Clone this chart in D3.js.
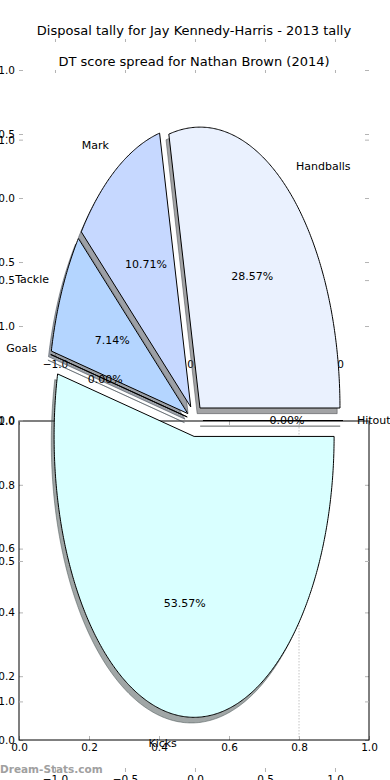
<!DOCTYPE html>
<html>
<head>
<meta charset="utf-8">
<script src="https://cdn.jsdelivr.net/npm/d3@7"></script>
<style>
  html, body { margin: 0; padding: 0; background: #fff; }
  svg { display: block; }
  text { font-family: "DejaVu Sans", sans-serif; }
</style>
</head>
<body>
<svg id="chart" width="390" height="780"></svg>
<script>
// ---------------- data ----------------
const titleTop = "Disposal tally for Jay Kennedy-Harris - 2013 tally";
const titleSecond = "DT score spread for Nathan Brown (2014)";
const categories = ["Handballs", "Mark", "Tackle", "Goals", "Kicks", "Hitout"];
const values = [8, 3, 2, 0, 15, 0];
const pieTicks = [-1.0, -0.5, 0.0, 0.5, 1.0];
const boxTicks = [0.0, 0.2, 0.4, 0.6, 0.8, 1.0];
const boxGuide = [0.8];
const watermark = "Dream-Stats.com";

// ---------------- style ----------------
const sliceColors = ["#EAF1FE", "#C6D8FF", "#B4D5FF", "#C8E6FF", "#D9FFFF", "#E0F0F0"];
const EXPLODE = 0.057;
const TICK = "#b4b4b4";
const FS = 10.5;

const svg = d3.select("#chart");
const X0 = 19, X1 = 369;

// scales
const pieX = d3.scaleLinear().domain([-1.2571, 1.2429]).range([X0, X1]);
const pieY = d3.scaleLinear().domain([-1.2513, 1.3583]).range([772, 39]);
const topY = d3.scaleLinear().domain([-1.242, 1.0]).range([357, 70]);
const boxX = d3.scaleLinear().domain([0, 1]).range([X0, X1]);
const boxY = d3.scaleLinear().domain([0, 1]).range([740, 421]);

const fmt = d3.format(".1f");

function styleAxis(g) {
  g.select(".domain").remove();
  g.selectAll(".tick line").attr("stroke", TICK).attr("stroke-width", 1);
  g.selectAll(".tick text").attr("fill", "#000").attr("font-size", FS)
    .attr("font-family", "DejaVu Sans, sans-serif");
}

function axesFrame(xs, ys, opts) {
  const g = svg.append("g");
  const [yb, yt] = [ys.range()[0], ys.range()[1]];
  // left
  g.append("g").attr("transform", `translate(${X0},0)`)
    .call(d3.axisLeft(ys).tickValues(opts.yt).tickSize(-4).tickPadding(4).tickFormat(fmt))
    .call(styleAxis);
  // right
  g.append("g").attr("transform", `translate(${X1},0)`)
    .call(d3.axisRight(ys).tickValues(opts.yt).tickSize(-4).tickFormat(""))
    .call(styleAxis);
  // top
  g.append("g").attr("transform", `translate(0,${yt})`)
    .call(d3.axisTop(xs).tickValues(opts.xt).tickSize(-opts.tl).tickFormat(""))
    .call(styleAxis);
  // bottom
  g.append("g").attr("transform", `translate(0,${yb})`)
    .call(d3.axisBottom(xs).tickValues(opts.xt).tickSize(-4).tickPadding(4).tickFormat(fmt))
    .call(styleAxis);
  return g;
}

// ---- upper axes (DT score spread) ----
axesFrame(pieX, topY, { xt: pieTicks, yt: pieTicks, tl: 3 });
svg.append("text").attr("x", (X0 + X1) / 2).attr("y", 61)
  .attr("text-anchor", "middle").attr("dominant-baseline", "central")
  .attr("font-size", 13).text(titleSecond);

// ---- box axes 0..1 ----
const box = svg.append("g");
box.selectAll("line.guide").data(boxGuide).join("line")
  .attr("x1", d => boxX(d)).attr("x2", d => boxX(d))
  .attr("y1", boxY(1)).attr("y2", boxY(0))
  .attr("stroke", "#c4c4c4").attr("stroke-width", 1).attr("stroke-dasharray", "1.5,1.5");
axesFrame(boxX, boxY, { xt: boxTicks, yt: boxTicks, tl: 4 });
box.append("rect").attr("x", boxX(0)).attr("y", boxY(1))
  .attr("width", boxX(1) - boxX(0)).attr("height", boxY(0) - boxY(1))
  .attr("fill", "none").attr("stroke", "#000").attr("stroke-width", 1);
svg.append(() => box.node());

// ---- pie axes ----
axesFrame(pieX, pieY, { xt: pieTicks, yt: pieTicks, tl: 3 });
svg.append("text").attr("x", (X0 + X1) / 2).attr("y", 30)
  .attr("text-anchor", "middle").attr("dominant-baseline", "central")
  .attr("font-size", 13).text(titleTop);

// pie geometry (matplotlib style: start at 0 deg, counter-clockwise)
const arcs = d3.pie().sort(null).startAngle(0).endAngle(2 * Math.PI)(values);
const total = d3.sum(values);
const wedges = arcs.map((a, i) => {
  const t1 = a.startAngle, t2 = a.endAngle, mid = (t1 + t2) / 2;
  return {
    name: categories[i], value: values[i], color: sliceColors[i],
    t1, t2, mid,
    cx: EXPLODE * Math.cos(mid), cy: EXPLODE * Math.sin(mid)
  };
});

function wedgePath(w, ox, oy) {
  const pts = [[w.cx + ox, w.cy + oy]];
  const n = Math.max(2, Math.ceil((w.t2 - w.t1) / (Math.PI / 360)));
  for (let k = 0; k <= n; k++) {
    const t = w.t1 + (w.t2 - w.t1) * k / n;
    pts.push([w.cx + ox + Math.cos(t), w.cy + oy + Math.sin(t)]);
  }
  return d3.line().x(p => pieX(p[0])).y(p => pieY(p[1]))(pts) + "Z";
}

const pieG = svg.append("g");
// shadows
pieG.selectAll("path.shadow").data(wedges).join("path")
  .attr("class", "shadow")
  .attr("d", w => wedgePath(w, -0.02, -0.02))
  .each(function (w) {
    const c = d3.rgb(w.color);
    const s = d3.rgb(c.r * 0.3, c.g * 0.3, c.b * 0.3);
    d3.select(this).attr("fill", s).attr("stroke", s).attr("stroke-width", 1)
      .attr("fill-opacity", 0.5).attr("stroke-opacity", 0.5);
  });
// wedges
pieG.selectAll("path.wedge").data(wedges).join("path")
  .attr("class", "wedge")
  .attr("d", w => wedgePath(w, 0, 0))
  .attr("fill", w => w.color)
  .attr("stroke", "#000").attr("stroke-width", 1).attr("stroke-linejoin", "miter");

// percentage labels
pieG.selectAll("text.pct").data(wedges).join("text")
  .attr("class", "pct")
  .attr("x", w => pieX(w.cx + 0.6 * Math.cos(w.mid)))
  .attr("y", w => pieY(w.cy + 0.6 * Math.sin(w.mid)))
  .attr("text-anchor", "middle").attr("dominant-baseline", "central")
  .attr("font-size", 11)
  .text(w => d3.format(".2f")(w.value / total * 100) + "%");

// category labels
pieG.selectAll("text.lbl").data(wedges).join("text")
  .attr("class", "lbl")
  .attr("x", w => pieX(w.cx + 1.1 * Math.cos(w.mid)))
  .attr("y", w => pieY(w.cy + 1.1 * Math.sin(w.mid)))
  .attr("text-anchor", w => (w.cx + 1.1 * Math.cos(w.mid)) > 0 ? "start" : "end")
  .attr("dominant-baseline", "central")
  .attr("font-size", 11)
  .text(w => w.name);

// watermark
svg.append("text").attr("x", 0).attr("y", 773)
  .attr("font-size", 10.5).attr("font-weight", "bold").attr("fill", "#a0a0a0")
  .text(watermark);
</script>
</body>
</html>
